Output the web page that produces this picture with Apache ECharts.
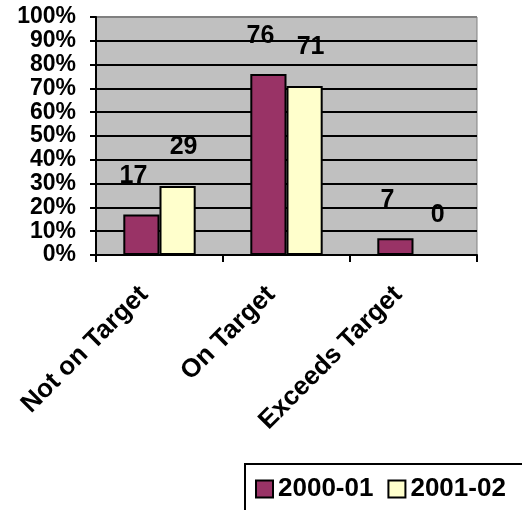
<!DOCTYPE html>
<html><head><meta charset="utf-8">
<script src="https://cdn.jsdelivr.net/npm/echarts@6/dist/echarts.min.js"></script>
<style>html,body{margin:0;padding:0;background:#fff}#c{width:522px;height:510px}</style>
</head><body><div id="c"></div>
<script>
const categories = ['Not on Target', 'On Target', 'Exceeds Target'];
const series2000 = [17, 76, 7];
const series2001 = [29, 71, 0];
const seriesNames = ['2000-01', '2001-02'];

const font = 'Liberation Sans, Arial, sans-serif';
const chart = echarts.init(document.getElementById('c'));
const gridColors = ['#000'];
for (let i = 1; i < 10; i++) gridColors.push('#000');
gridColors.push('#808080');
chart.setOption({
  animation: false,
  grid: { left: 96, right: 45, top: 17, bottom: 255, show: true, backgroundColor: '#c0c0c0', borderColor: '#808080', borderWidth: 1 },
  legend: {
    data: seriesNames, left: 245, top: 464, width: 320, icon: 'rect', itemWidth: 17, itemHeight: 17, itemGap: 14,
    padding: [12, 30, 24, 10], borderColor: '#000', borderWidth: 2,
    textStyle: { fontFamily: font, fontWeight: 'bold', fontSize: 26, color: '#000' }
  },
  xAxis: {
    type: 'category', data: categories,
    axisLine: { lineStyle: { color: '#000', width: 2 } },
    axisTick: { show: true, length: 7, lineStyle: { color: '#000', width: 2 } },
    axisLabel: { rotate: 45, interval: 0, margin: 20, padding: [0, 22, 0, 0], fontFamily: font, fontWeight: 'bold', fontSize: 26, color: '#000' }
  },
  yAxis: {
    type: 'value', min: 0, max: 100, interval: 10,
    axisLine: { show: true, lineStyle: { color: '#000', width: 2 } },
    axisTick: { show: true, length: 6, lineStyle: { color: '#000', width: 2 } },
    axisLabel: {
      formatter: '{value}%', showMinLabel: true, showMaxLabel: true, margin: 20,
      fontFamily: font, fontWeight: 'bold', fontSize: 23, color: '#000'
    },
    splitLine: { show: true, lineStyle: { color: gridColors, width: 2 } }
  },
  series: [
    { name: seriesNames[0], type: 'bar', data: series2000, barGap: '0%', barCategoryGap: '43%',
      itemStyle: { color: '#993366', borderColor: '#000', borderWidth: 2 },
      label: { show: true, position: 'top', distance: 26, offset: [-8, 0], fontFamily: font, fontWeight: 'bold', fontSize: 25, color: '#000' } },
    { name: seriesNames[1], type: 'bar', data: series2001, barGap: '0%', barCategoryGap: '43%',
      itemStyle: { color: '#ffffcc', borderColor: '#000', borderWidth: 2 },
      label: { show: true, position: 'top', distance: 26, offset: [6, 0], fontFamily: font, fontWeight: 'bold', fontSize: 25, color: '#000' } }
  ]
});
</script></body></html>
